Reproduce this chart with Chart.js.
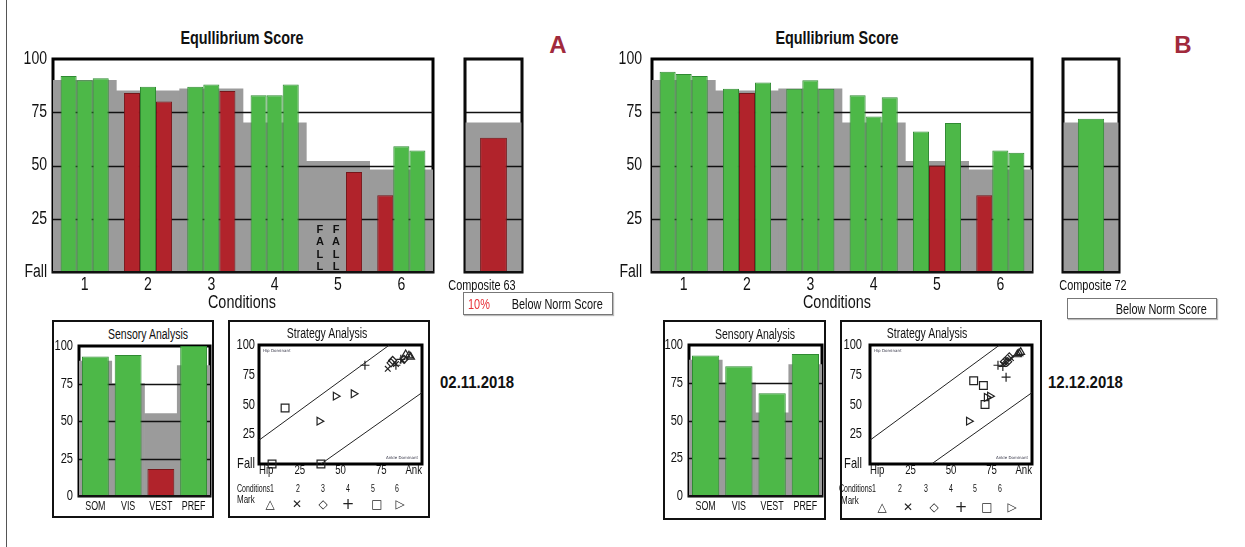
<!DOCTYPE html>
<html>
<head>
<meta charset="UTF-8">
<title>Equilibrium Score - A / B</title>
<script src="https://cdn.jsdelivr.net/npm/chart.js"></script>
<style>
  body { margin: 0; background: #fff; font-family: 'Liberation Sans', Arial, sans-serif; color: #111; }
  .page { position: relative; width: 1245px; height: 547px; overflow: hidden; }
  .chart { position: absolute; }
  .c { position: absolute; transform: translate(-50%, -50%) scaleX(var(--sx, 1)); white-space: nowrap; }
  .l { position: absolute; transform: translateY(-50%) scaleX(var(--sx, 1)); transform-origin: left center; white-space: nowrap; }
  .box { position: absolute; border: 2.5px solid #111; box-sizing: border-box; }
  .norm { position: absolute; border: 1px solid #777; box-shadow: 1px 1px 1px #bbb; box-sizing: border-box; font-size: 14px; }
  .norm span { position: absolute; top: 50%; white-space: nowrap; transform: translateY(-50%) scaleX(0.78); }
  .title { font-weight: bold; font-size: 18px; --sx: 0.8; }
  .letter { font-weight: bold; font-size: 24px; color: #a12a3c; }
  .date { font-weight: bold; font-size: 17px; --sx: 0.88; }
  .sub { font-size: 14px; --sx: 0.75; }
  .leg { font-size: 10px; --sx: 0.7; }
  .mark { font-family: 'DejaVu Sans', sans-serif; font-size: 12px; color: #222; }
</style>
</head>
<body>
<div class="page">
  <div style="position:absolute;left:6px;top:0;width:1px;height:547px;background:#555"></div>

  <!-- panel A -->
  <div class="c title" style="left:242px;top:38px">Equllibrium Score</div>
  <div class="c letter" style="left:558px;top:45px">A</div>
  <div class="chart" id="eqAWrap"><canvas id="eqA"></canvas></div>
  <div class="c" style="left:242px;top:302px;font-size:18px;--sx:0.8">Conditions</div>
  <div class="chart" id="compAWrap"><canvas id="compA"></canvas></div>
  <div class="c sub" style="left:482px;top:285px;--sx:0.78">Composite 63</div>
  <div class="norm" style="left:463px;top:292px;width:150px;height:23px">
    <span style="left:4px;color:#e8333c;transform-origin:left center">10%</span>
    <span style="right:9px;transform-origin:right center">Below Norm Score</span>
  </div>

  <div class="box" style="left:52px;top:320px;width:162px;height:198px"></div>
  <div class="c sub" style="left:148px;top:334px">Sensory Analysis</div>
  <div class="chart" id="sensAWrap"><canvas id="sensA"></canvas></div>

  <div class="box" style="left:228px;top:320px;width:202px;height:198px"></div>
  <div class="c sub" style="left:327px;top:333px">Strategy Analysis</div>
  <div class="chart" id="stratAWrap"><canvas id="stratA"></canvas></div>
  <div class="l leg" style="left:237px;top:488px">Conditions1</div>
  <div class="c leg" style="left:298px;top:488px">2</div>
  <div class="c leg" style="left:323px;top:488px">3</div>
  <div class="c leg" style="left:348px;top:488px">4</div>
  <div class="c leg" style="left:373px;top:488px">5</div>
  <div class="c leg" style="left:397px;top:488px">6</div>
  <div class="l leg" style="left:237px;top:499px;--sx:0.8">Mark</div>
  <div class="c mark" style="left:270px;top:504px">△</div>
  <div class="c mark" style="left:297px;top:504px">✕</div>
  <div class="c mark" style="left:323px;top:504px">◇</div>
  <div class="c mark" style="left:348px;top:504px;font-size:15px">+</div>
  <div class="c mark" style="left:377px;top:504px">□</div>
  <div class="c mark" style="left:400px;top:504px">▷</div>
  <div class="l date" style="left:440px;top:383px">02.11.2018</div>

  <!-- panel B -->
  <div class="c title" style="left:837px;top:38px">Equllibrium Score</div>
  <div class="c letter" style="left:1183px;top:45px">B</div>
  <div class="chart" id="eqBWrap"><canvas id="eqB"></canvas></div>
  <div class="c" style="left:837px;top:302px;font-size:18px;--sx:0.8">Conditions</div>
  <div class="chart" id="compBWrap"><canvas id="compB"></canvas></div>
  <div class="c sub" style="left:1093px;top:285px;--sx:0.78">Composite 72</div>
  <div class="norm" style="left:1067px;top:298px;width:150px;height:21px">
    <span style="right:9px;transform-origin:right center">Below Norm Score</span>
  </div>

  <div class="box" style="left:663px;top:320px;width:163px;height:200px"></div>
  <div class="c sub" style="left:755px;top:334px">Sensory Analysis</div>
  <div class="chart" id="sensBWrap"><canvas id="sensB"></canvas></div>

  <div class="box" style="left:840px;top:320px;width:202px;height:200px"></div>
  <div class="c sub" style="left:927px;top:333px">Strategy Analysis</div>
  <div class="chart" id="stratBWrap"><canvas id="stratB"></canvas></div>
  <div class="l leg" style="left:839px;top:488px">Conditions1</div>
  <div class="c leg" style="left:900px;top:488px">2</div>
  <div class="c leg" style="left:926px;top:488px">3</div>
  <div class="c leg" style="left:951px;top:488px">4</div>
  <div class="c leg" style="left:975px;top:488px">5</div>
  <div class="c leg" style="left:1000px;top:488px">6</div>
  <div class="l leg" style="left:841px;top:500px;--sx:0.8">Mark</div>
  <div class="c mark" style="left:882px;top:507px">△</div>
  <div class="c mark" style="left:908px;top:507px">✕</div>
  <div class="c mark" style="left:934px;top:507px">◇</div>
  <div class="c mark" style="left:961px;top:507px;font-size:15px">+</div>
  <div class="c mark" style="left:987px;top:507px">□</div>
  <div class="c mark" style="left:1012px;top:507px">▷</div>
  <div class="l date" style="left:1048px;top:383px">12.12.2018</div>
</div>

<script>
// ---- data ----
const conditions = ['1', '2', '3', '4', '5', '6'];
const normScores = [90, 85, 86, 70, 52, 48];

// equilibrium score per trial (0 = fall)
const eqA1 = [92, 84, 87, 83, 0, 36];
const eqA2 = [90, 87, 88, 83, 0, 59];
const eqA3 = [91, 80, 85, 88, 47, 57];
const eqB1 = [94, 86, 86, 83, 66, 36];
const eqB2 = [93, 84, 90, 73, 50, 57];
const eqB3 = [92, 89, 86, 82, 70, 56];

const compositeNorm = [70];
const compositeA = [63];
const compositeB = [72];

const sensoryLabels = ['SOM', 'VIS', 'VEST', 'PREF'];
const sensoryNorm = [90, 75, 55, 87];
const sensoryA = [93, 94, 18, 100];
const sensoryB = [93, 86, 68, 94];

// strategy score (x) per trial, same order as the equilibrium arrays
const stratA1 = [90, 84, 82, 65, 8, 37];
const stratA2 = [93, 88, 89, 84, 38, 58];
const stratA3 = [92, 79, 81, 87, 16, 47];
const stratB1 = [93, 84, 83, 79, 70, 61];
const stratB2 = [92, 82, 86, 84, 71, 74];
const stratB3 = [91, 87, 85, 82, 64, 72];

const hipLineX = [0, 80], hipLineY = [20, 100];
const ankLineX = [38, 100], ankLineY = [0, 60];

// ---- styles ----
const GREEN = '#4db848', GREEN_EDGE = '#2f8a32';
const RED = '#b1232b', RED_EDGE = '#761619';
const GRAY = '#9b9b9b';
const FONT = "'Liberation Sans', Arial, sans-serif";
const markStyles = [
    { style: 'triangle', rot: 0, r: 4.5 },
    { style: 'crossRot', rot: 0, r: 4 },
    { style: 'rectRot', rot: 0, r: 4 },
    { style: 'cross', rot: 0, r: 4.5 },
    { style: 'rect', rot: 0, r: 5.5 },
    { style: 'triangle', rot: 90, r: 4.5 }
];

Chart.defaults.font.family = FONT;
Chart.defaults.color = '#111';
Chart.defaults.animation = false;
Chart.defaults.events = [];
Chart.defaults.plugins.legend.display = false;
Chart.defaults.plugins.tooltip.enabled = false;

// size a wrapper so the chart area lands on the given box
function place(id, a, yw, xh, pad) {
    const el = document.getElementById(id + 'Wrap');
    el.style.left = (a.l - yw - pad) + 'px';
    el.style.top = (a.t - pad) + 'px';
    el.style.width = (a.r - a.l + yw + 2 * pad) + 'px';
    el.style.height = (a.b - a.t + xh + 2 * pad) + 'px';
}

const hidden = { grid: { display: false, drawTicks: false }, border: { display: false }, ticks: { display: false } };

function yAxis(yw) {
    return Object.assign({ min: 0, max: 100, afterFit: s => { s.width = yw; } }, hidden,
        { ticks: { display: false, stepSize: 25 } });
}

// condensed tick text (the original uses a narrow face)
function drawText(ctx, text, x, y, align, font, sx) {
    ctx.save();
    ctx.font = font;
    ctx.fillStyle = '#111';
    ctx.translate(x, y);
    ctx.scale(sx, 1);
    ctx.textAlign = align;
    ctx.textBaseline = 'middle';
    ctx.fillText(text, 0, 0);
    ctx.restore();
}

function labelPlugin(cfg) {
    return {
        id: 'labels',
        afterDraw(chart) {
            const { ctx, chartArea: a } = chart;
            const xs = chart.scales.x, ys = chart.scales.y;
            ys.ticks.forEach(t => drawText(ctx, cfg.yFmt(t.value), a.left - cfg.yGap,
                ys.getPixelForValue(t.value), 'right', cfg.yFont, cfg.sx));
            if (!cfg.xFmt) return;
            const n = xs.ticks.length;
            xs.ticks.forEach((t, i) => {
                let align = 'center';
                if (cfg.inner && i === 0) align = 'left';
                if (cfg.inner && i === n - 1) align = 'right';
                drawText(ctx, cfg.xFmt(t.value), xs.getPixelForTick(i), a.bottom + cfg.xGap,
                    align, cfg.xFont, cfg.xsx || cfg.sx);
            });
        }
    };
}

const fallLabel = v => v === 0 ? 'Fall' : String(v);

// frame behind the norm band, grid lines over it, bars on top
function panelPlugin(frameW, thinBox) {
    return {
        id: 'panel',
        beforeDatasetsDraw(chart) {
            const { ctx, chartArea: a } = chart;
            ctx.save();
            ctx.strokeStyle = '#000';
            ctx.lineWidth = frameW;
            ctx.strokeRect(a.left, a.top, a.right - a.left, a.bottom - a.top);
            ctx.restore();
        },
        afterDatasetDraw(chart, args) {
            if (args.index !== 0) return;
            const { ctx, chartArea: a } = chart;
            const y = chart.scales.y;
            ctx.save();
            ctx.strokeStyle = '#111';
            ctx.lineWidth = 1.5;
            [25, 50, 75].forEach(v => {
                const py = Math.round(y.getPixelForValue(v)) + 0.5;
                ctx.beginPath();
                ctx.moveTo(a.left, py);
                ctx.lineTo(a.right, py);
                ctx.stroke();
            });
            ctx.restore();
        },
        afterDatasetsDraw(chart) {
            const { ctx, chartArea: a } = chart;
            ctx.save();
            ctx.strokeStyle = '#111';
            ctx.lineWidth = 2;
            ctx.beginPath();
            ctx.moveTo(a.left - 1, a.bottom);
            ctx.lineTo(a.right + 1, a.bottom);
            ctx.stroke();
            if (thinBox) {
                ctx.lineWidth = 1.2;
                ctx.strokeRect(a.left, a.top, a.right - a.left, a.bottom - a.top);
            }
            ctx.restore();
        }
    };
}

// vertical "FALL" for trials scored 0
const fallPlugin = {
    id: 'falls',
    afterDatasetsDraw(chart) {
        const { ctx, chartArea: a } = chart;
        ctx.save();
        ctx.font = "bold 11px " + FONT;
        ctx.fillStyle = '#111';
        ctx.textAlign = 'center';
        ctx.textBaseline = 'middle';
        chart.data.datasets.forEach((ds, i) => {
            if (i === 0) return;
            const meta = chart.getDatasetMeta(i);
            ds.data.forEach((v, j) => {
                if (v !== 0) return;
                const x = meta.data[j].x - 2;
                ['F', 'A', 'L', 'L'].forEach((ch, k) => {
                    ctx.fillText(ch, x, a.bottom - 42 + k * 12.3);
                });
            });
        });
        ctx.restore();
    }
};

function normBand(values) {
    return { data: values, backgroundColor: GRAY, order: 10, grouped: false,
             categoryPercentage: 1, barPercentage: 1 };
}

function scoreBars(values, norms, catPct, barPct) {
    return {
        data: values,
        backgroundColor: values.map((v, i) => v < norms[i] ? RED : GREEN),
        borderColor: values.map((v, i) => v < norms[i] ? RED_EDGE : GREEN_EDGE),
        borderWidth: 1, order: 1,
        categoryPercentage: catPct, barPercentage: barPct
    };
}

function eqChart(id, area, trials, yGap) {
    place(id, area, 40, 26, 12);
    const datasets = [normBand(normScores)];
    trials.forEach(t => datasets.push(scoreBars(t, normScores, 0.76, 1)));
    new Chart(document.getElementById(id), {
        type: 'bar',
        data: { labels: conditions, datasets: datasets },
        options: {
            responsive: true, maintainAspectRatio: false,
            layout: { padding: 12 },
            scales: {
                x: Object.assign({ offset: true, afterFit: s => { s.height = 26; } }, hidden),
                y: yAxis(40)
            }
        },
        plugins: [panelPlugin(3, false), fallPlugin, labelPlugin({
            yFmt: fallLabel, yGap: yGap, yFont: '18px ' + FONT, sx: 0.78,
            xFmt: v => conditions[v], xGap: 13, xFont: '18px ' + FONT
        })]
    });
}

function compositeChart(id, area, value) {
    place(id, area, 0, 0, 4);
    new Chart(document.getElementById(id), {
        type: 'bar',
        data: { labels: ['Composite'], datasets: [normBand(compositeNorm), scoreBars(value, compositeNorm, 1, 0.47)] },
        options: {
            responsive: true, maintainAspectRatio: false,
            layout: { padding: 4 },
            scales: {
                x: { display: false, offset: true },
                y: { display: false, min: 0, max: 100 }
            }
        },
        plugins: [panelPlugin(3, true)]
    });
}

function sensoryChart(id, area, values, yGap) {
    place(id, area, 28, 18, 10);
    new Chart(document.getElementById(id), {
        type: 'bar',
        data: { labels: sensoryLabels, datasets: [normBand(sensoryNorm), scoreBars(values, sensoryNorm, 1, 0.82)] },
        options: {
            responsive: true, maintainAspectRatio: false,
            layout: { padding: 10 },
            scales: {
                x: Object.assign({ offset: true, afterFit: s => { s.height = 18; } }, hidden),
                y: yAxis(28)
            }
        },
        plugins: [panelPlugin(3, false), labelPlugin({
            yFmt: v => String(v), yGap: yGap, yFont: '15px ' + FONT, sx: 0.74,
            xFmt: v => sensoryLabels[v], xGap: 11, xFont: '12px ' + FONT, xsx: 0.74
        })]
    });
}

const strategyPlugin = {
    id: 'strategy',
    beforeDatasetsDraw(chart) {
        const { ctx, chartArea: a } = chart;
        ctx.save();
        ctx.strokeStyle = '#000';
        ctx.lineWidth = 3;
        ctx.strokeRect(a.left, a.top, a.right - a.left, a.bottom - a.top);
        ctx.font = "4px 'DejaVu Sans', sans-serif";
        ctx.fillStyle = '#334';
        ctx.textBaseline = 'middle';
        ctx.textAlign = 'left';
        ctx.fillText('Hip Dominant', a.left + 4, a.top + 6);
        ctx.textAlign = 'right';
        ctx.fillText('Ankle Dominant', a.right - 4, a.bottom - 6);
        ctx.restore();
    }
};

function strategyChart(id, area, eqTrials, stTrials, yGap) {
    place(id, area, 30, 14, 12);
    const line = (xs, ys) => ({
        type: 'line', data: xs.map((x, i) => ({ x: x, y: ys[i] })),
        borderColor: '#222', borderWidth: 1, pointRadius: 0, order: 5
    });
    const datasets = [line(hipLineX, hipLineY), line(ankLineX, ankLineY)];
    markStyles.forEach((m, c) => datasets.push({
        type: 'scatter',
        data: stTrials.map((st, t) => ({ x: st[c], y: eqTrials[t][c] })),
        pointStyle: m.style, rotation: m.rot, pointRadius: m.r,
        borderColor: '#222', borderWidth: 1.2, backgroundColor: 'rgba(0,0,0,0)',
        clip: false, order: 1
    }));
    new Chart(document.getElementById(id), {
        type: 'scatter',
        data: { datasets: datasets },
        options: {
            responsive: true, maintainAspectRatio: false,
            layout: { padding: 12 },
            scales: {
                x: Object.assign({ type: 'linear', min: 0, max: 100, afterFit: s => { s.height = 14; } }, hidden,
                    { ticks: { display: false, stepSize: 25 } }),
                y: yAxis(30)
            }
        },
        plugins: [strategyPlugin, labelPlugin({
            yFmt: fallLabel, yGap: yGap, yFont: '15px ' + FONT, sx: 0.74,
            xFmt: v => v === 0 ? 'Hip' : v === 100 ? 'Ank' : String(v), xGap: 6, xFont: '13px ' + FONT, inner: true
        })]
    });
}

eqChart('eqA', { l: 53, t: 59, r: 433, b: 272 }, [eqA1, eqA2, eqA3], 6);
eqChart('eqB', { l: 652, t: 59, r: 1032, b: 272 }, [eqB1, eqB2, eqB3], 10);
compositeChart('compA', { l: 465, t: 59, r: 522, b: 272 }, compositeA);
compositeChart('compB', { l: 1063, t: 59, r: 1119, b: 272 }, compositeB);
sensoryChart('sensA', { l: 79, t: 346, r: 210, b: 496 }, sensoryA, 6);
sensoryChart('sensB', { l: 689, t: 345, r: 822, b: 496 }, sensoryB, 6);
strategyChart('stratA', { l: 259, t: 345, r: 422, b: 464 }, [eqA1, eqA2, eqA3], [stratA1, stratA2, stratA3], 4);
strategyChart('stratB', { l: 870, t: 345, r: 1032, b: 464 }, [eqB1, eqB2, eqB3], [stratB1, stratB2, stratB3], 8);
</script>
</body>
</html>
